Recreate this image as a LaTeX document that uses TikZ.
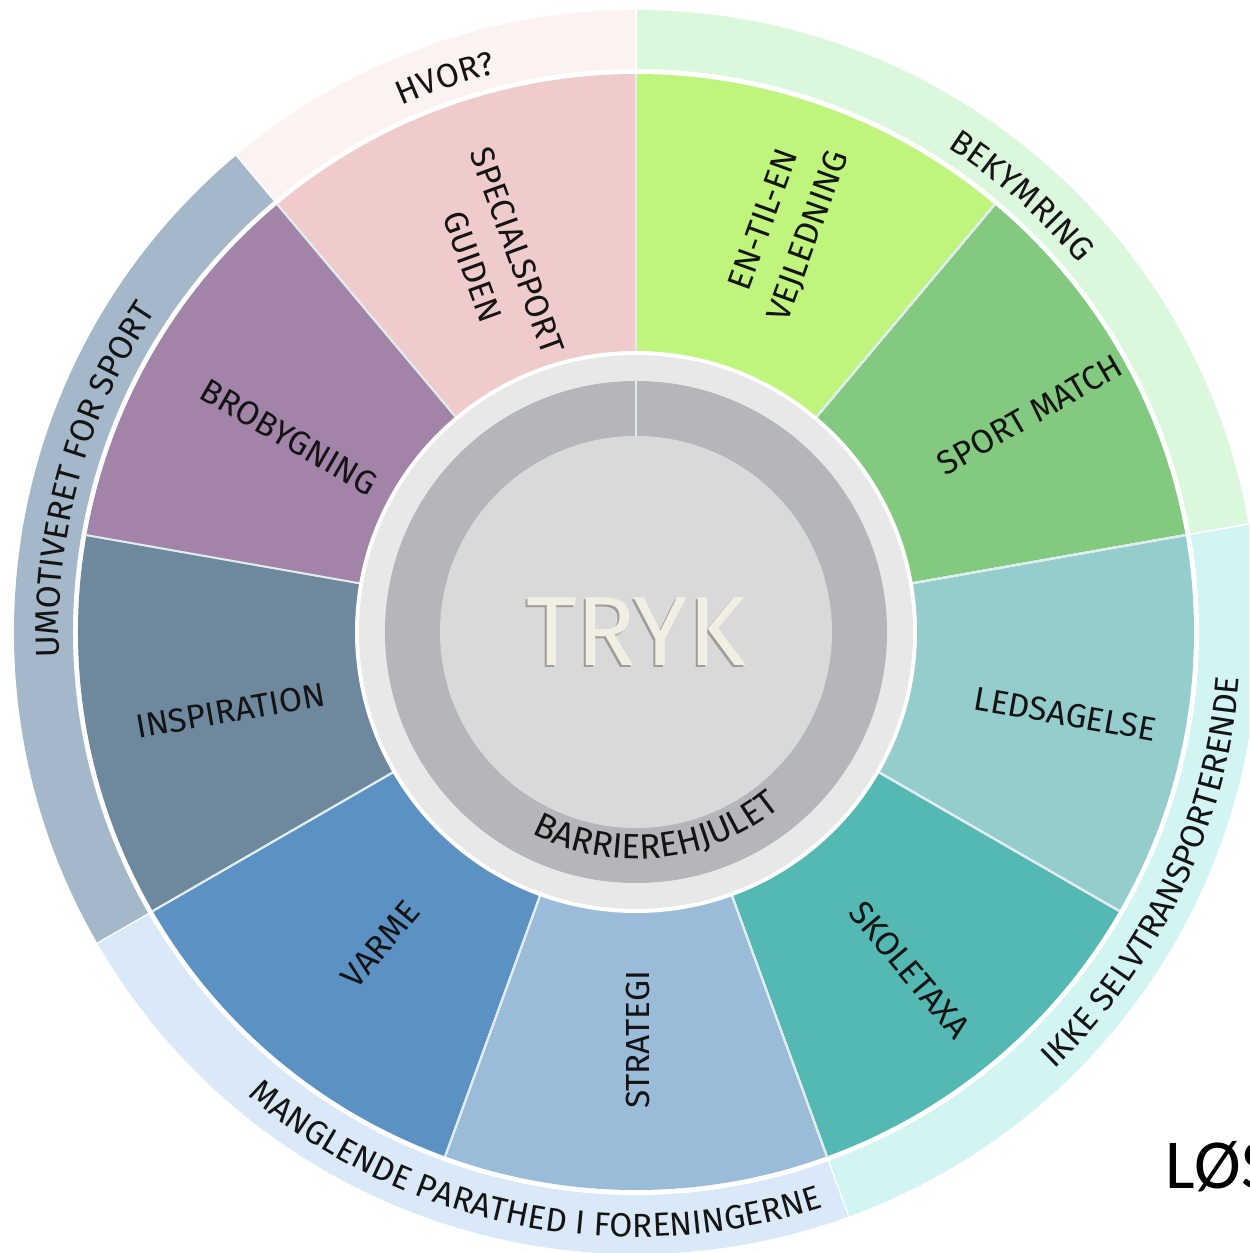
\documentclass[tikz,border=0pt]{standalone}
\usepackage{fontspec}
\usetikzlibrary{decorations.text}
\setmainfont{Fira Sans}
\newfontfamily\calfont{Carlito}

\definecolor{special}{HTML}{EFCBCB}
\definecolor{entilen}{HTML}{BFF47D}
\definecolor{sportmatch}{HTML}{84C980}
\definecolor{ledsag}{HTML}{94CDCB}
\definecolor{skoletaxa}{HTML}{54B8B3}
\definecolor{strategi}{HTML}{9BBCD9}
\definecolor{varme}{HTML}{5B92C3}
\definecolor{inspiration}{HTML}{6E889E}
\definecolor{brobyg}{HTML}{A284A8}
\definecolor{hvor}{HTML}{FCF2F1}
\definecolor{bekym}{HTML}{DCF8DC}
\definecolor{ikke}{HTML}{D2F5F4}
\definecolor{mangl}{HTML}{DAE9F7}
\definecolor{umotiv}{HTML}{A4B8C9}
\definecolor{lightring}{HTML}{E8E8E8}
\definecolor{greyring}{HTML}{B4B6B9}
\definecolor{disc}{HTML}{D9D9D9}
\definecolor{sepline}{HTML}{E1ECEF}
\definecolor{tryk}{HTML}{F1EFE3}
\definecolor{trykshade}{HTML}{9E9E98}
\definecolor{ink}{HTML}{141414}

\newcommand{\segfont}{\fontsize{19}{27}\selectfont}
\newcommand{\hubfont}{\fontsize{20}{24}\selectfont}
\newcommand{\trykfont}{\fontsize{56}{60}\selectfont}
% colour, from, to, inner radius, outer radius
\newcommand{\wheelring}[5]{\fill[#1] (#2:#4) -- (#2:#5) arc[start angle=#2, end angle=#3, radius=#5] -- (#3:#4) arc[start angle=#3, end angle=#2, radius=#4] -- cycle;}

\tikzset{
	seglabel/.style = {font=\segfont, text=ink, align=center, inner sep=0pt},
	arctext/.style = {decorate, decoration={text along path, text align=center, text={|\segfont\color{ink}|#1}}}
}

\begin{document}
\begin{tikzpicture}[x=0.02cm, y=0.02cm]
	\useasboundingbox (-636,-621) rectangle (613,632);
	\clip (-636,-621) rectangle (613,632);
	\fill[white] (-636,-621) rectangle (613,632);
	% outer ring
	\foreach \a/\b/\col in {90/130/hvor, 10/90/bekym, -70/10/ikke, -150/-70/mangl, 130/210/umotiv}
	\wheelring{\col}{\a}{\b}{563}{622}
	\foreach \a in {90, 10, -70, -150, 130}
	\draw[white, line width=0.6pt] (\a:563) -- (\a:622);
	% segments
	\foreach \a/\b/\col in {90/130/special, 50/90/entilen, 10/50/sportmatch, -30/10/ledsag, -70/-30/skoletaxa, -110/-70/strategi, -150/-110/varme, 170/210/inspiration, 130/170/brobyg}
	\wheelring{\col}{\a}{\b}{270}{558}
	\foreach \a in {90, 50, 10, -30, -70, -110, -150, 170, 130}
	\draw[sepline, line width=1.1pt] (\a:270) -- (\a:558);
	% centre
	\fill[white] (0,0) circle (281);
	\fill[lightring] (0,0) circle (277);
	\fill[greyring] (0,0) circle (251);
	\fill[disc] (0,0) circle (196);
	\draw[sepline, line width=1.2pt] (90:196) -- (90:251);
	\node[font=\trykfont, text=trykshade] (trykshadow) at (-2,-2) {TRYK};
	\node[font=\trykfont, text=tryk] (tryk) at (0,0) {TRYK};
	\path[decorate, decoration={text along path, text align=center, text={|\hubfont\color{ink}|BARRIEREHJULET}}] (-130:227) arc[start angle=-130, end angle=-38, radius=227];
	% segment labels
	\foreach \n/\ang/\r/\rot/\txt in {specialsport/110.7/399/-70/{SPECIALSPORT\\GUIDEN}, entilen/69.5/431/70/{EN-TIL-EN\\VEJLEDNING}, sportmatch/28.9/450/30/{SPORT MATCH}, ledsagelse/-10.8/437/-10/{LEDSAGELSE}, skoletaxa/-51/435/-50/{SKOLETAXA}, strategi/-89.7/408/90/{STRATEGI}, varme/-129.3/404/50/{VARME}, inspiration/191/413/10/{INSPIRATION}, brobygning/150.7/398/-30/{BROBYGNING}}
	\node[seglabel, rotate=\rot] (\n) at (\ang:\r) {\txt};
	% outer labels
	\path[arctext={HVOR?}] (124:576) arc[start angle=124, end angle=94, radius=576];
	\path[arctext={BEKYMRING}] (73.5:576) arc[start angle=73.5, end angle=23.5, radius=576];
	\path[arctext={UMOTIVERET FOR SPORT}] (194.4:577) arc[start angle=194.4, end angle=134.4, radius=577];
	\path[arctext={IKKE SELVTRANSPORTERENDE}] (-55.3:605) arc[start angle=-55.3, end angle=4.7, radius=605];
	\path[arctext={MANGLENDE PARATHED I FORENINGERNE}] (-140:605) arc[start angle=-140, end angle=-62, radius=605];
	\node[font=\calfont\fontsize{40}{48}\selectfont, anchor=base west, inner sep=0pt] (los) at (529,-556) {LØS};
\end{tikzpicture}
\end{document}
